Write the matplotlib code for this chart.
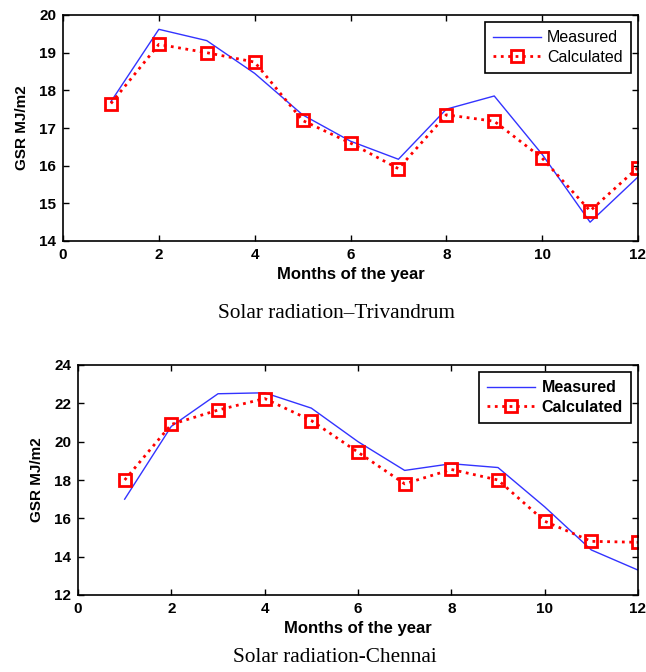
import matplotlib
matplotlib.use("Agg")
import matplotlib.pyplot as plt

months = list(range(1, 13))
triv_measured = [17.7, 19.62, 19.32, 18.45, 17.35, 16.65, 16.17, 17.5, 17.85, 16.3, 14.5, 15.7]
triv_calculated = [17.65, 19.22, 19.0, 18.75, 17.2, 16.6, 15.92, 17.35, 17.18, 16.2, 14.8, 15.95]
chen_measured = [17.0, 20.8, 22.5, 22.55, 21.75, 20.0, 18.5, 18.85, 18.65, 16.6, 14.35, 13.3]
chen_calculated = [18.0, 20.9, 21.65, 22.25, 21.1, 19.45, 17.8, 18.55, 18.0, 15.85, 14.8, 14.75]

xticks = [0, 2, 4, 6, 8, 10, 12]
triv_yticks = [14, 15, 16, 17, 18, 19, 20]
chen_yticks = [12, 14, 16, 18, 20, 22, 24]

plt.rcParams['font.family'] = ['Liberation Sans', 'DejaVu Sans']

fig = plt.figure(figsize=(6.46, 6.72), dpi=100)
ax1 = fig.add_axes([63/646, 1-241/672, (638-63)/646, (241-15)/672])
ax2 = fig.add_axes([78/646, 1-595/672, (638-78)/646, (595-365)/672])

def draw(ax, meas, calc, yticks, legend_bold):
    ax.plot(months, meas, color='#3333ff', lw=1.0, label='Measured')
    ax.plot(months, calc, color='red', lw=2.0, ls=':', marker='s', ms=8,
            mfc='none', mec='red', mew=2.0, label='Calculated')
    ax.set_xlim(0, 12)
    ax.set_ylim(yticks[0], yticks[-1])
    ax.set_xticks(xticks)
    ax.set_yticks(yticks)
    ax.tick_params(direction='in', top=True, right=True, labelsize=11, length=4, width=1)
    ax.tick_params(axis='y', pad=5)
    ax.tick_params(axis='x', pad=5)
    for lab in ax.get_xticklabels() + ax.get_yticklabels():
        lab.set_fontweight('bold')
    for s in ax.spines.values():
        s.set_linewidth(1.2)
    ax.set_xlabel('Months of the year', fontsize=12, fontweight='bold', labelpad=4)
    ax.set_ylabel('GSR MJ/m2', fontsize=11, fontweight='bold', labelpad=7)
    leg = ax.legend(loc='upper right', fancybox=False, framealpha=1, edgecolor='black',
                    prop={'size': 11.5, 'weight': 'bold' if legend_bold else 'normal'},
                    handlelength=3.0, handletextpad=0.4, borderpad=0.5,
                    labelspacing=0.3, borderaxespad=0.45)
    leg.get_frame().set_linewidth(1.2)

draw(ax1, triv_measured, triv_calculated, triv_yticks, False)
draw(ax2, chen_measured, chen_calculated, chen_yticks, True)

fig.text(336/646, 1-313/672, 'Solar radiation\u2013Trivandrum', ha='center', va='center',
         fontsize=15.3, family=['Liberation Serif', 'DejaVu Serif'])
fig.text(335/646, 1-657/672, 'Solar radiation-Chennai', ha='center', va='center',
         fontsize=15.3, family=['Liberation Serif', 'DejaVu Serif'])

fig.savefig('out.png', dpi=100)
